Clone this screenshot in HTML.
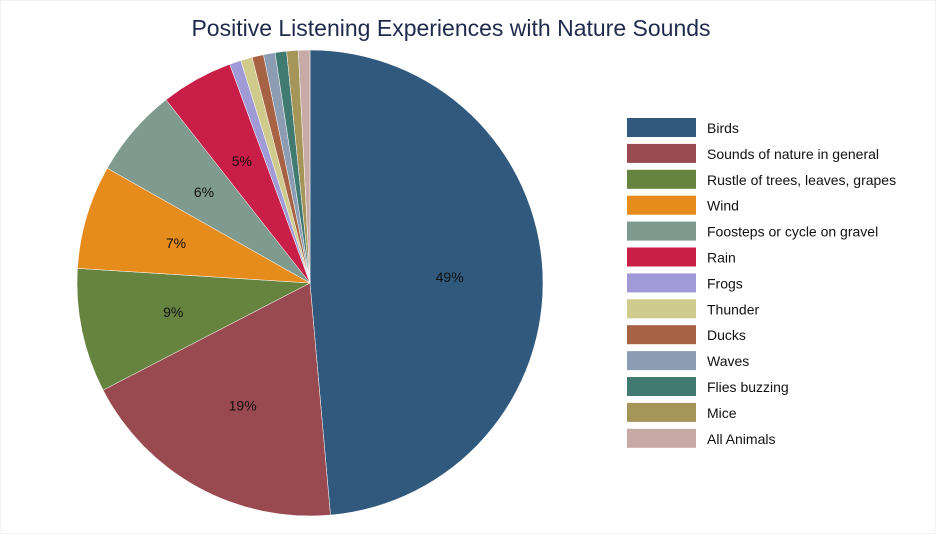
<!DOCTYPE html>
<html><head><meta charset="utf-8"><style>
html,body{margin:0;padding:0;background:#fff;}
body{width:936px;height:534px;overflow:hidden;font-family:"Liberation Sans",sans-serif;}
</style></head><body>
<svg id="chart" width="936" height="534" viewBox="0 0 936 534" xmlns="http://www.w3.org/2000/svg">
<rect x="0" y="0" width="936" height="534" fill="#fff" stroke="#e6e6e6"/>
<text x="451" y="36" text-anchor="middle" font-size="23" fill="#1f2a4d" font-family="Liberation Sans, sans-serif">Positive Listening Experiences with Nature Sounds</text>
<g id="slices"></g>
<g id="labels"></g>
<g id="legend"></g>
</svg>
<script>
const categories = ["Birds","Sounds of nature in general","Rustle of trees, leaves, grapes","Wind","Foosteps or cycle on gravel","Rain","Frogs","Thunder","Ducks","Waves","Flies buzzing","Mice","All Animals"];
const values = [48.6,18.8,8.6,7.2,6.2,5.0,0.8,0.8,0.8,0.8,0.8,0.8,0.8];
const colors = ["#30597d","#994a50","#668340","#e68c1c","#7f9a8f","#c81e47","#a09bd6","#cfcb8c","#a76244","#8b9cb3","#417a70","#a59558","#c7aaa5"];
const NS="http://www.w3.org/2000/svg";
const cx=310, cy=283, r=233;
const total = values.reduce((a,b)=>a+b,0);
const gS=document.getElementById('slices'), gL=document.getElementById('labels'), gG=document.getElementById('legend');
function pt(a,rad){return [cx+rad*Math.sin(a), cy-rad*Math.cos(a)];}
let acc=0;
values.forEach((v,i)=>{
  const a0=acc/total*2*Math.PI; acc+=v; const a1=acc/total*2*Math.PI;
  const p0=pt(a0,r), p1=pt(a1,r);
  const large=(a1-a0)>Math.PI?1:0;
  const path=document.createElementNS(NS,'path');
  path.setAttribute('d',`M${cx},${cy} L${p0[0]},${p0[1]} A${r},${r} 0 ${large} 1 ${p1[0]},${p1[1]} Z`);
  path.setAttribute('fill',colors[i]);
  path.setAttribute('stroke','#fff'); path.setAttribute('stroke-width','0.5');
  
  
  gS.appendChild(path);
  const pct=v/total*100;
  if(pct>=4){
    const m=pt((a0+a1)/2,r*0.6);
    const t=document.createElementNS(NS,'text');
    t.setAttribute('x',m[0]); t.setAttribute('y',m[1]+5);
    t.setAttribute('text-anchor','middle'); t.setAttribute('font-size','14'); t.setAttribute('fill','#111');
    t.textContent=Math.round(pct)+'%';
    
    
    gL.appendChild(t);
  }
  const y=118+i*25.9;
  const sw=document.createElementNS(NS,'rect');
  sw.setAttribute('x',627); sw.setAttribute('y',y); sw.setAttribute('width',69); sw.setAttribute('height',19);
  sw.setAttribute('fill',colors[i]);
  
  
  gG.appendChild(sw);
  const lt=document.createElementNS(NS,'text');
  lt.setAttribute('x',707); lt.setAttribute('y',y+15); lt.setAttribute('font-size','14'); lt.setAttribute('fill','#111');
  lt.textContent=categories[i];
  
  
  gG.appendChild(lt);
});
</script>
</body></html>
